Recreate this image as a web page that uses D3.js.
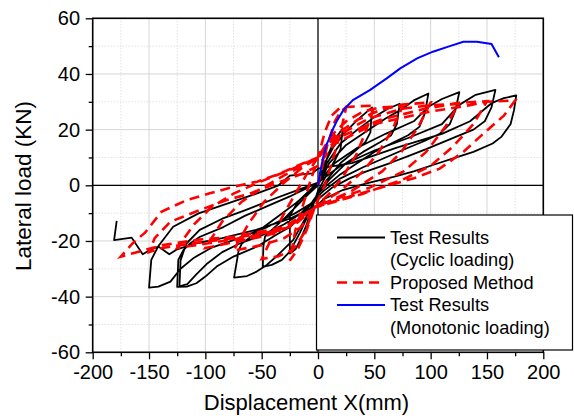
<!DOCTYPE html>
<html>
<head>
<meta charset="utf-8">
<script src="https://cdn.jsdelivr.net/npm/d3@7"></script>
<style>
  body { margin: 0; background: #fff; }
  svg { display: block; font-family: "Liberation Sans", Arial, sans-serif; }
</style>
</head>
<body>
<div id="chart"></div>
<script>
// axis ticks
const xTicks = [-200, -150, -100, -50, 0, 50, 100, 150, 200];
const xMinor = [-175, -125, -75, -25, 25, 75, 125, 175];
const yTicks = [-60, -40, -20, 0, 20, 40, 60];
const yMinor = [-50, -30, -10, 10, 30, 50];

// Test Results (Monotonic loading) [displacement mm, load kN]
const monotonic = [[0,0],[2,5],[4.7,10.3],[7.5,14.5],[10.7,17.5],[13.6,20.5],[16.6,23],[22.5,27],[31,30.6],
  [46,34.2],[61,38.4],[73,42],[88,45.6],[102,48],[117,50],[129,51.6],[141,51.6],[154,50.8],[160.6,46]];

// Test Results (Cyclic loading)
const cyclic = [
  [0,0],[5,6],[10,12],[15,16.5],[22,20.5],
  [20,13],[15,9],[8,4],[0,-2],
  [-5,-8],[-10,-14],[-15,-19],[-20,-23],[-25,-24.5],
  [-25,-11],[-18,-6],[-8,-2],[0,1],
  [6,8],[14,14],[24,19],[35,23.5],[48,28],
  [46.5,19],[42,15.5],[32,12],[20,8],[8,2],[0,-3],
  [-8,-10],[-16,-17],[-25,-23.8],[-32,-26.8],[-41,-28.6],[-49,-29.3],
  [-48.5,-22],[-47,-18.4],[-41,-16],[-30,-12],[-18,-7],[-8,-3],[0,0],
  [8,8],[20,15],[35,20],[50,24.5],[62,27.5],[72.5,29.3],
  [70,22],[65,18],[55,15.5],[40,12],[25,8],[10,2],[0,-3],
  [-10,-11],[-22,-19.6],[-28,-22],[-37,-25.6],[-45.5,-28.6],[-54.4,-31],[-63,-32.6],[-74.5,-33.2],
  [-70.4,-23.3],[-67.5,-20.9],[-61.6,-19.1],[-50,-15.5],[-35,-11],[-20,-6.5],[-8,-2.5],[0,0],
  [10,8],[25,14.5],[45,20],[60,24],[73,27],[85,30.5],[98,33],
  [95,26],[90,21],[80,18],[65,15],[50,12],[35,8],[20,4],[5,-1],[0,-3],
  [-12,-10],[-25,-15],[-37,-17.8],[-54,-22],[-75,-25.6],[-90,-29.2],[-100,-32.8],[-108,-35.2],[-116.5,-36.4],[-125,-36.5],
  [-124,-26.8],[-119.5,-23.3],[-113.6,-20.9],[-104.7,-18.5],[-84,-15],[-65,-11],[-45,-7.5],[-25,-4],[-10,-1],[0,1],
  [15,8],[35,13.5],[60,18.5],[85,23],[98,28.2],[110,31],[125.5,33.5],
  [122,27],[117,22],[108,18.5],[95,16],[80,13.5],[60,10],[40,6.5],[20,2.5],[5,-2],[0,-4],
  [-15,-10],[-30,-14],[-50,-18],[-70,-21],[-85,-24],[-98,-28],[-108,-32],[-116,-35.5],[-123,-36.3],
  [-122,-27],[-117,-21],[-105,-16],[-85,-12],[-65,-9],[-40,-5],[-20,-2],[0,1],
  [20,7],[50,12.5],[80,17],[110,22],[125.4,28.9],[140,32.5],[157.5,34.3],
  [154,28],[148,23],[138,20],[126,18],[111,15.5],[96,13],[80,10.5],[64,8],[43,5],[28,2.5],[12,-1],[0,-5],
  [-20,-10],[-45,-15],[-70,-19],[-95,-22.5],[-110,-26],[-122,-30],[-131,-34.6],[-141.7,-36.4],[-150,-36.8],
  [-148,-26.8],[-142,-22],[-128.6,-14.9],[-106,-10.1],[-80,-6.5],[-54,-2.9],[-35,0],[-25,3.5],[-5,4.3],[0,6],
  [30,8],[70,13.5],[110,18.5],[135,23],[154,29.5],[165,31.3],[176,32.3],
  [174,27],[171,22],[163,17.5],[155,15],[138,12],[120,9.7],[102,7.3],[85,5],[67,3],[43,0.7],[22,-1.7],[5,-5],[0,-7],
  [-25,-12],[-55,-16],[-85,-19],[-110,-21],[-125,-23],[-132,-24.8],[-141.7,-22],[-148,-23],[-155.6,-24.8],
  [-165.4,-18.8],[-181,-19.7],[-178.7,-12.8]
];

// Proposed Method
const proposed = [
  [0,0],[8,14],[15,23],[20,26.5],[25,28],
  [20,19],[13,9],[6,0],[-3,-8],
  [-10,-16],[-18,-23],[-25,-27],
  [-20,-16],[-14,-8],[-8,0],[-3,6],[0,10],
  [6,19],[12,25],[20,28],[35,28.4],[50,28.6],
  [43,20],[34,11],[22,3],[10,-3],[-3,-8],
  [-12,-17],[-22,-23],[-35,-25.5],[-50,-26.5],
  [-40,-18],[-30,-10],[-20,-3],[-10,4],[0,10],
  [12,18],[25,23],[40,26.5],[55,28],[75,28.3],
  [66,20],[54,12],[40,5],[20,-2],[-3,-8],
  [-15,-15],[-30,-19],[-50,-21.5],[-75,-23.5],
  [-62,-14],[-48,-6],[-30,1],[-15,6],[0,10],
  [15,18],[35,23.5],[55,27],[75,29],[100,29.8],
  [89,21],[74,12],[57,5],[30,-2],[-3,-8],
  [-20,-14],[-45,-18],[-75,-20.5],[-100,-22.5],
  [-85,-13],[-68,-6],[-50,-1],[-28,4],[0,10],
  [18,18],[45,24],[75,27.5],[100,28.8],[125,29.2],
  [113,21],[96,12],[76,5],[45,-1],[15,-5],[-3,-8],
  [-25,-15],[-60,-18.5],[-100,-21],[-125,-22.5],
  [-110,-14],[-95,-8],[-75,-3],[-50,1.5],[-25,5.5],[0,10],
  [20,17.5],[55,23.5],[95,27.5],[125,29.6],[150,30.2],
  [138,22],[120,14],[100,7],[75,2],[40,-3],[-3,-8],
  [-30,-16],[-75,-19],[-105,-20.5],[-138,-22.5],[-150,-24],
  [-145,-19],[-131,-13.1],[-105,-8.9],[-81,-5.3],[-60,-2.9],[-37,0.7],[-13,4.3],[0,7],
  [15,15],[50,22],[100,26.5],[135,28.8],[150,30],[175,30.5],
  [165,25],[148,19],[129,12],[108,6],[85,2.5],[50,-1.5],[20,-5],[-3,-8],
  [-30,-15],[-75,-18.5],[-105,-19.5],[-138,-21.5],[-166,-24.6],[-175,-25.6],
  [-164,-20.6],[-153.5,-17],[-139,-9.5],[-116.5,-5.3],[-96,-2.9],[-75,-0.5],[-54,1.3],[-37,3.7],[-13,7.9],[0,10]
];

const legendLines = [
  {label: ["Test Results", "(Cyclic loading)"], color: "#000", dash: null, width: 2},
  {label: ["Proposed Method"], color: "#ff0000", dash: "10,6", width: 2.6},
  {label: ["Test Results", "(Monotonic loading)"], color: "#0000ff", dash: null, width: 2}
];

const margin = {top: 18.3, left: 92.7};
const width = 450.6;
const height = 334;

const x = d3.scaleLinear().domain([-200, 200]).range([0, width]);
const y = d3.scaleLinear().domain([-60, 60]).range([height, 0]);

const svg = d3.select("#chart")
  .append("svg")
  .attr("width", 574)
  .attr("height", 419);

const g = svg.append("g")
  .attr("transform", "translate(" + margin.left + "," + margin.top + ")");

// grid
g.selectAll(".vminor").data(xMinor).enter().append("line")
  .attr("x1", d => x(d)).attr("x2", d => x(d)).attr("y1", 0).attr("y2", height)
  .attr("stroke", "#d4d4d4").attr("stroke-dasharray", "1,2");
g.selectAll(".hminor").data(yMinor).enter().append("line")
  .attr("y1", d => y(d)).attr("y2", d => y(d)).attr("x1", 0).attr("x2", width)
  .attr("stroke", "#d4d4d4").attr("stroke-dasharray", "1,2");
g.selectAll(".vmajor").data(xTicks).enter().append("line")
  .attr("x1", d => x(d)).attr("x2", d => x(d)).attr("y1", 0).attr("y2", height)
  .attr("stroke", "#d6d6d6");
g.selectAll(".hmajor").data(yTicks).enter().append("line")
  .attr("y1", d => y(d)).attr("y2", d => y(d)).attr("x1", 0).attr("x2", width)
  .attr("stroke", "#d6d6d6");

// zero lines
g.append("line").attr("x1", x(0)).attr("x2", x(0)).attr("y1", 0).attr("y2", height)
  .attr("stroke", "#000").attr("stroke-width", 1.2);
g.append("line").attr("x1", 0).attr("x2", width).attr("y1", y(0)).attr("y2", y(0))
  .attr("stroke", "#000").attr("stroke-width", 1.2);

const line = d3.line().x(d => x(d[0])).y(d => y(d[1]));

g.append("path").datum(cyclic)
  .attr("d", line).attr("fill", "none")
  .attr("stroke", "#000").attr("stroke-width", 1.8).attr("stroke-linejoin", "round");

g.append("path").datum(proposed)
  .attr("d", line).attr("fill", "none")
  .attr("stroke", "#ff0000").attr("stroke-width", 2.6).attr("stroke-dasharray", "10,6");

g.append("path").datum(monotonic)
  .attr("d", line).attr("fill", "none")
  .attr("stroke", "#0000ff").attr("stroke-width", 2);

// frame
g.append("rect").attr("width", width).attr("height", height)
  .attr("fill", "none").attr("stroke", "#000").attr("stroke-width", 1.6);

// axes
const xAxis = g.append("g").attr("transform", "translate(0," + height + ")")
  .call(d3.axisBottom(x).tickValues(xTicks).tickSize(7).tickFormat(d => String(d)));
g.append("g").attr("transform", "translate(0," + height + ")")
  .call(d3.axisBottom(x).tickValues(xMinor).tickSize(4).tickFormat(""));
const yAxis = g.append("g")
  .call(d3.axisLeft(y).tickValues(yTicks).tickSize(7).tickPadding(5.7).tickFormat(d => String(d)));
g.append("g")
  .call(d3.axisLeft(y).tickValues(yMinor).tickSize(4).tickFormat(""));

g.selectAll(".domain").remove();
g.selectAll(".tick line").attr("stroke", "#000").attr("stroke-width", 1.3);

xAxis.selectAll("text").attr("y", 26.5).attr("dy", 0)
  .attr("font-size", 20).attr("font-family", "Liberation Sans, Arial, sans-serif").attr("fill", "#000");
yAxis.selectAll("text")
  .attr("font-size", 20).attr("font-family", "Liberation Sans, Arial, sans-serif").attr("fill", "#000");

// titles
svg.append("text")
  .attr("x", 306.5).attr("y", 410)
  .attr("text-anchor", "middle").attr("font-size", 22)
  .text("Displacement X(mm)");

svg.append("text")
  .attr("transform", "translate(31,186) rotate(-90)")
  .attr("text-anchor", "middle").attr("font-size", 22.5)
  .text("Lateral load (KN)");

// legend
const legend = svg.append("g");
legend.append("rect")
  .attr("x", 316.5).attr("y", 215).attr("width", 256).attr("height", 135)
  .attr("fill", "#fff").attr("stroke", "#000").attr("stroke-width", 1.2);

let rowY = 237.5;
legendLines.forEach(function(item) {
  legend.append("line")
    .attr("x1", 337).attr("x2", 385).attr("y1", rowY).attr("y2", rowY)
    .attr("stroke", item.color).attr("stroke-width", item.width)
    .attr("stroke-dasharray", item.dash);
  item.label.forEach(function(t, i) {
    legend.append("text")
      .attr("x", 390).attr("y", rowY + i * 22.5).attr("dy", "0.35em")
      .attr("font-size", 18.2)
      .text(t);
  });
  rowY += item.label.length * 22.5;
});
</script>
</body>
</html>
